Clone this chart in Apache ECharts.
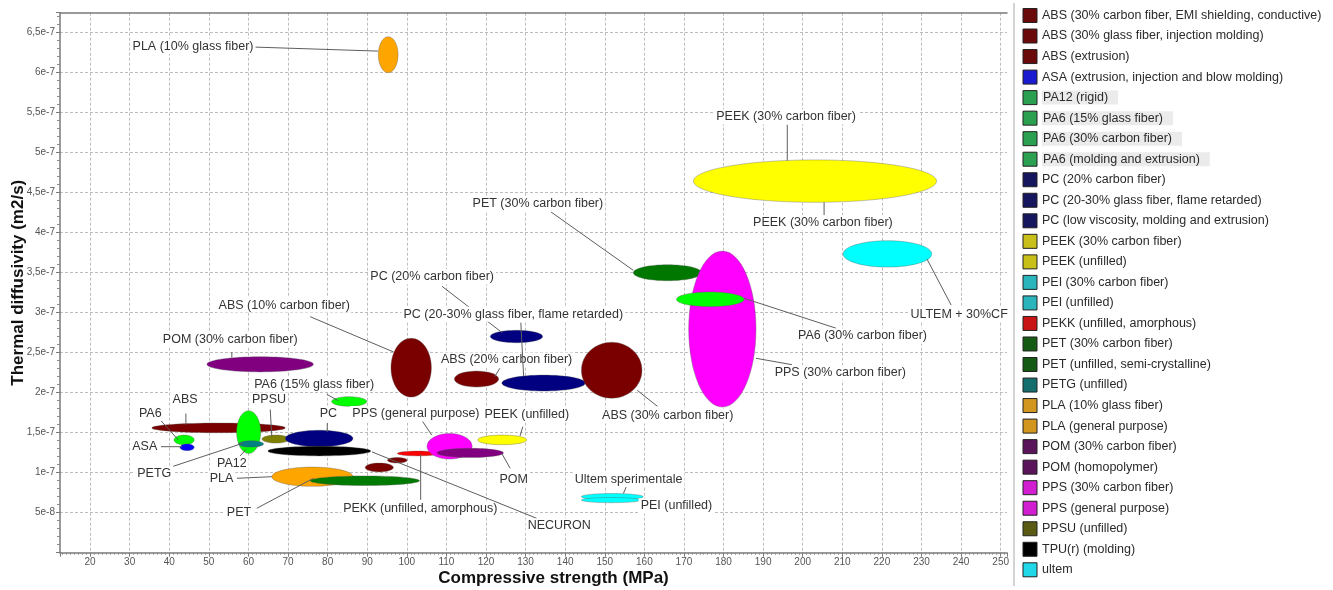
<!DOCTYPE html>
<html>
<head>
<meta charset="utf-8">
<title>Thermal diffusivity vs compressive strength</title>
<script src="https://cdn.jsdelivr.net/npm/echarts@6/dist/echarts.min.js"></script>
<style>
  html, body { margin: 0; padding: 0; background: #ffffff; }
  #chart { width: 1333px; height: 590px; }
</style>
</head>
<body>
<div id="chart"></div>
<script>
// Material property ranges: compressive strength (MPa) and thermal diffusivity
// (in units of 1e-7 m2/s). Each material is drawn as an ellipse spanning its ranges.
// Order is drawing order (later entries are painted on top).
const materials = [
  'PEEK (30% carbon fiber)',
  'PEI (30% carbon fiber)',
  'PET (30% carbon fiber)',
  'PPS (30% carbon fiber)',
  'PA6 (30% carbon fiber)',
  'PC (20% carbon fiber)',
  'PC (20-30% glass fiber, flame retarded)',
  'ABS (30% carbon fiber, EMI shielding, conductive)',
  'ABS (10% carbon fiber)',
  'ABS (20% carbon fiber)',
  'POM (30% carbon fiber)',
  'PA6 (15% glass fiber)',
  'ABS (extrusion)',
  'PA12 (rigid)',
  'PETG (unfilled)',
  'PA6 (molding and extrusion)',
  'ASA (extrusion, injection and blow molding)',
  'PPSU (unfilled)',
  'PC (low viscosity, molding and extrusion)',
  'TPU(r) (molding)',
  'PLA (general purpose)',
  'PET (unfilled, semi-crystalline)',
  'ABS (30% glass fiber, injection molding)',
  'ABS',
  'PEKK (unfilled, amorphous)',
  'PPS (general purpose)',
  'POM (homopolymer)',
  'PEEK (unfilled)',
  'ultem',
  'PEI (unfilled)',
  'PLA (10% glass fiber)'
];
const strengthMin = [172.4, 210.2, 157.2, 171.2, 168.1, 121.1, 124.0, 144.1, 96.0, 112.0,
  49.5, 81.0, 35.6, 57.0, 57.5, 41.2, 42.7, 63.4, 69.3, 64.9,
  65.9, 75.6, 89.5, 95.1, 97.6, 105.1, 107.6, 117.9, 144.1, 144.1, 92.8];
const strengthMax = [233.8, 232.6, 174.5, 188.2, 185.2, 134.3, 145.1, 159.4, 106.2, 123.2,
  76.4, 89.9, 69.3, 63.1, 63.8, 46.3, 46.3, 70.4, 86.4, 90.9,
  86.4, 103.2, 96.6, 100.1, 108.0, 116.5, 124.4, 130.3, 159.7, 159.1, 97.8];
const diffusivityMin = [4.38, 3.57, 3.40, 1.82, 3.075, 2.625, 2.02, 1.93, 1.945, 2.07,
  2.26, 1.83, 1.50, 1.24, 1.32, 1.35, 1.275, 1.37, 1.325, 1.21,
  0.83, 0.84, 1.01, 1.12, 1.21, 1.17, 1.19, 1.35, 0.66, 0.625, 6.00];
const diffusivityMax = [4.91, 3.90, 3.60, 3.77, 3.26, 2.78, 2.22, 2.63, 2.68, 2.27,
  2.45, 1.95, 1.62, 1.775, 1.40, 1.47, 1.36, 1.47, 1.53, 1.33,
  1.07, 0.96, 1.12, 1.19, 1.27, 1.49, 1.305, 1.47, 0.74, 0.69, 6.45];
const fillColors = ['#ffff00', '#00ffff', '#007800', '#ff00ff', '#00ff00', '#000080', '#000080', '#7a0000', '#7a0000', '#7a0000',
  '#800080', '#00ff00', '#7a0000', '#00ff00', '#008080', '#00ff00', '#0000ff', '#808000', '#000080', '#000000',
  '#ffa500', '#007a00', '#7a0000', '#7a0000', '#ff0000', '#ff00ff', '#800080', '#ffff00', '#00ffff', '#00ffff', '#ffa500'];

// Legend entries (database records) with their swatch colours
const legendNames = [
  'ABS (30% carbon fiber, EMI shielding, conductive)',
  'ABS (30% glass fiber, injection molding)',
  'ABS (extrusion)',
  'ASA (extrusion, injection and blow molding)',
  'PA12 (rigid)',
  'PA6 (15% glass fiber)',
  'PA6 (30% carbon fiber)',
  'PA6 (molding and extrusion)',
  'PC (20% carbon fiber)',
  'PC (20-30% glass fiber, flame retarded)',
  'PC (low viscosity, molding and extrusion)',
  'PEEK (30% carbon fiber)',
  'PEEK (unfilled)',
  'PEI (30% carbon fiber)',
  'PEI (unfilled)',
  'PEKK (unfilled, amorphous)',
  'PET (30% carbon fiber)',
  'PET (unfilled, semi-crystalline)',
  'PETG (unfilled)',
  'PLA (10% glass fiber)',
  'PLA (general purpose)',
  'POM (30% carbon fiber)',
  'POM (homopolymer)',
  'PPS (30% carbon fiber)',
  'PPS (general purpose)',
  'PPSU (unfilled)',
  'TPU(r) (molding)',
  'ultem'
];
const legendSwatch = [
  '#6a0a0a', '#6a0a0a', '#6a0a0a', '#1a1ad0', '#2aa050', '#2aa050', '#2aa050', '#2aa050',
  '#16165e', '#16165e', '#16165e', '#c8c018', '#c8c018', '#2ab4bc', '#2ab4bc', '#c81414',
  '#145a14', '#145a14', '#146e6e', '#d2961e', '#d2961e', '#5a145a', '#5a145a', '#d01ed0',
  '#d01ed0', '#5a5a14', '#000000', '#20d8e8'
];
const legendShaded = ['PA12 (rigid)', 'PA6 (15% glass fiber)', 'PA6 (30% carbon fiber)', 'PA6 (molding and extrusion)'];

// Annotation labels: text anchor and leader line (strength, diffusivity coordinates)
const labelText = [
  'PLA (10% glass fiber)', 'PEEK (30% carbon fiber)', 'PEEK (30% carbon fiber)', 'PET (30% carbon fiber)',
  'PC (20% carbon fiber)', 'ABS (20% carbon fiber)', 'PC (20-30% glass fiber, flame retarded)',
  'ABS (10% carbon fiber)', 'ABS (30% carbon fiber)', 'PPS (30% carbon fiber)', 'PA6 (30% carbon fiber)',
  'ULTEM + 30%CF', 'POM (30% carbon fiber)', 'PA6 (15% glass fiber)', 'PPS (general purpose)',
  'PEEK (unfilled)', 'ABS', 'PA6', 'PPSU', 'PC', 'ASA', 'PETG', 'PA12', 'PLA', 'PET',
  'PEKK (unfilled, amorphous)', 'NECURON', 'POM', 'Ultem sperimentale', 'PEI (unfilled)'
];
const labelX = [46.0, 195.8, 205.1, 133.1, 106.4, 125.2, 126.9, 69.05, 165.9, 209.5, 215.1, 239.5, 55.4, 76.6, 102.3,
  130.3, 44.0, 35.2, 65.2, 80.2, 33.8, 36.2, 55.8, 53.2, 57.6, 103.4, 138.5, 127.0, 156.0, 168.1];
const labelY = [6.33, 5.45, 4.125, 4.36, 3.45, 2.41, 2.98, 3.095, 1.71, 2.25, 2.71, 2.98, 2.66, 2.105, 1.74,
  1.73, 1.92, 1.74, 1.91, 1.74, 1.325, 0.99, 1.11, 0.93, 0.50, 0.555, 0.334, 0.92, 0.92, 0.585];
const leaderLines = [
  [61.7, 6.32, 92.7, 6.27], [196.1, 5.35, 196.1, 4.90], [205.4, 4.22, 205.4, 4.38], [136.4, 4.26, 157.2, 3.53],
  [108.9, 3.33, 124.1, 2.75], [123.5, 2.305, 122.2, 2.2], [128.8, 2.875, 129.5, 2.21],
  [75.6, 2.95, 96.6, 2.51], [163.3, 1.83, 158.2, 2.03], [197.3, 2.35, 188.2, 2.43], [208.5, 2.805, 185.2, 3.18],
  [237.5, 3.095, 231.4, 3.67], [55.8, 2.51, 55.8, 2.44], [79.8, 1.98, 82.7, 1.90], [104.0, 1.64, 106.3, 1.47],
  [129.3, 1.575, 128.6, 1.46], [44.2, 1.74, 44.2, 1.60], [37.7, 1.66, 42.3, 1.41], [65.5, 1.79, 65.9, 1.45],
  [79.9, 1.62, 79.9, 1.51], [37.9, 1.325, 43.2, 1.325], [41.0, 1.08, 58.7, 1.37], [57.9, 1.21, 59.4, 1.29],
  [57.1, 0.93, 65.9, 0.95], [62.1, 0.555, 76.4, 0.93], [103.5, 0.66, 103.5, 1.23], [132.8, 0.43, 91.2, 1.26],
  [126.1, 1.055, 124.0, 1.24], [155.4, 0.82, 154.7, 0.74], null
];

const FONT = '"Liberation Sans", Arial, sans-serif';

function renderEllipse(params, api) {
  const a = api.coord([api.value(0), api.value(3)]);
  const b = api.coord([api.value(1), api.value(2)]);
  return {
    type: 'ellipse',
    shape: {
      cx: (a[0] + b[0]) / 2, cy: (a[1] + b[1]) / 2,
      rx: Math.abs(b[0] - a[0]) / 2, ry: Math.abs(b[1] - a[1]) / 2
    },
    style: { fill: api.visual('color'), stroke: 'rgba(90,90,90,0.45)', lineWidth: 0.8 }
  };
}

function renderLabel(params, api) {
  const i = params.dataIndex;
  const p = api.coord([labelX[i], labelY[i]]);
  const children = [];
  const lead = leaderLines[i];
  if (lead) {
    const s = api.coord([lead[0], lead[1]]);
    const e = api.coord([lead[2], lead[3]]);
    children.push({
      type: 'line',
      shape: { x1: s[0], y1: s[1], x2: e[0], y2: e[1] },
      style: { stroke: '#5e5e5e', lineWidth: 1 }
    });
  }
  children.push({
    type: 'text',
    x: p[0], y: p[1],
    style: {
      text: labelText[i], fill: '#333333', font: '12.5px ' + FONT,
      align: 'center', verticalAlign: 'middle',
      backgroundColor: '#ffffff', padding: [1, 2]
    }
  });
  return { type: 'group', children };
}

const X_MIN = 12.4, X_MAX = 251.6, Y_MIN = 0, Y_MAX = 6.75;

function strengthLabel(v) {
  return Math.abs(v / 10 - Math.round(v / 10)) < 1e-6 ? String(Math.round(v)) : '';
}
function diffusivityLabel(v) {
  if (v <= 0) return '';
  const steps = v / 0.5;
  if (Math.abs(steps - Math.round(steps)) > 1e-6) return '';
  return Number((v * 1e-7).toPrecision(3)).toExponential().replace('.', ',');
}

const series = materials.map((name, i) => ({
  type: 'custom',
  name: name,
  renderItem: renderEllipse,
  data: [[strengthMin[i], strengthMax[i], diffusivityMin[i], diffusivityMax[i]]],
  encode: { x: [0, 1], y: [2, 3] },
  itemStyle: { color: fillColors[i] },
  silent: true,
  z: 2
}));
series.push({
  type: 'custom',
  name: 'annotations',
  renderItem: renderLabel,
  data: labelText.map((t, i) => [labelX[i], labelY[i]]),
  encode: { x: 0, y: 1 },
  silent: true,
  z: 5
});

const axisLineStyle = { color: '#7a7a7a', width: 1.5 };
const gridLineStyle = { color: '#bdbdbd', width: 1, type: [3, 2] };

const chart = echarts.init(document.getElementById('chart'), null, { renderer: 'canvas' });
chart.setOption({
  animation: false,
  backgroundColor: '#ffffff',
  textStyle: { fontFamily: FONT },
  grid: { left: 60, top: 12.7, right: 326, bottom: 37.3, outerBoundsMode: 'none' },
  xAxis: [{
    type: 'value', min: X_MIN, max: X_MAX, minInterval: 10, maxInterval: 10,
    name: 'Compressive strength (MPa)', nameLocation: 'middle', nameGap: 17, nameMoveOverlap: false,
    nameTextStyle: { fontSize: 17, fontWeight: 'bold', color: '#111111', padding: [0, 0, 0, 40] },
    axisLine: { onZero: false, lineStyle: axisLineStyle },
    axisTick: { length: 4, lineStyle: { color: '#7a7a7a' } },
    minorTick: { show: true, splitNumber: 10, length: 2, lineStyle: { color: '#8a8a8a' } },
    axisLabel: { formatter: strengthLabel, fontSize: 10, color: '#555555', margin: 5 },
    splitLine: { show: true, showMinLine: false, showMaxLine: false, lineStyle: gridLineStyle }
  }, {
    type: 'value', position: 'top', min: X_MIN, max: X_MAX,
    axisLine: { show: true, onZero: false, lineStyle: axisLineStyle },
    axisTick: { show: false }, axisLabel: { show: false }, splitLine: { show: false }
  }],
  yAxis: {
    type: 'value', min: Y_MIN, max: Y_MAX, minInterval: 0.5, maxInterval: 0.5,
    name: 'Thermal diffusivity (m2/s)', nameLocation: 'middle', nameGap: 33, nameMoveOverlap: false,
    nameTextStyle: { fontSize: 17, fontWeight: 'bold', color: '#111111' },
    axisLine: { show: true, onZero: false, lineStyle: axisLineStyle },
    axisTick: { show: true, length: 4, lineStyle: { color: '#7a7a7a' } },
    minorTick: { show: true, splitNumber: 5, length: 3, lineStyle: { color: '#8a8a8a' } },
    axisLabel: { formatter: diffusivityLabel, fontSize: 10, color: '#555555', margin: 5 },
    splitLine: { show: true, showMinLine: false, showMaxLine: false, lineStyle: gridLineStyle }
  },
  legend: {
    orient: 'vertical', left: 1022.5, top: 8, padding: 0,
    itemWidth: 14, itemHeight: 14, itemGap: 5.53,
    selectedMode: false,
    textStyle: { fontSize: 12.5, color: '#2a2a2a', lineHeight: 14, fontFamily: FONT },
    data: legendNames.map((n, i) => {
      const item = {
        name: n, icon: 'rect',
        itemStyle: { color: legendSwatch[i], borderColor: '#222222', borderWidth: 1 }
      };
      if (legendShaded.indexOf(n) >= 0) {
        item.textStyle = { backgroundColor: '#ebebeb', padding: [0, 10, 0, 1] };
      }
      return item;
    })
  },
  graphic: [{
    type: 'line', silent: true,
    shape: { x1: 1014, y1: 3, x2: 1014, y2: 586 },
    style: { stroke: '#c4c4c4', lineWidth: 1.5 }
  }],
  series: series
});
</script>
</body>
</html>
